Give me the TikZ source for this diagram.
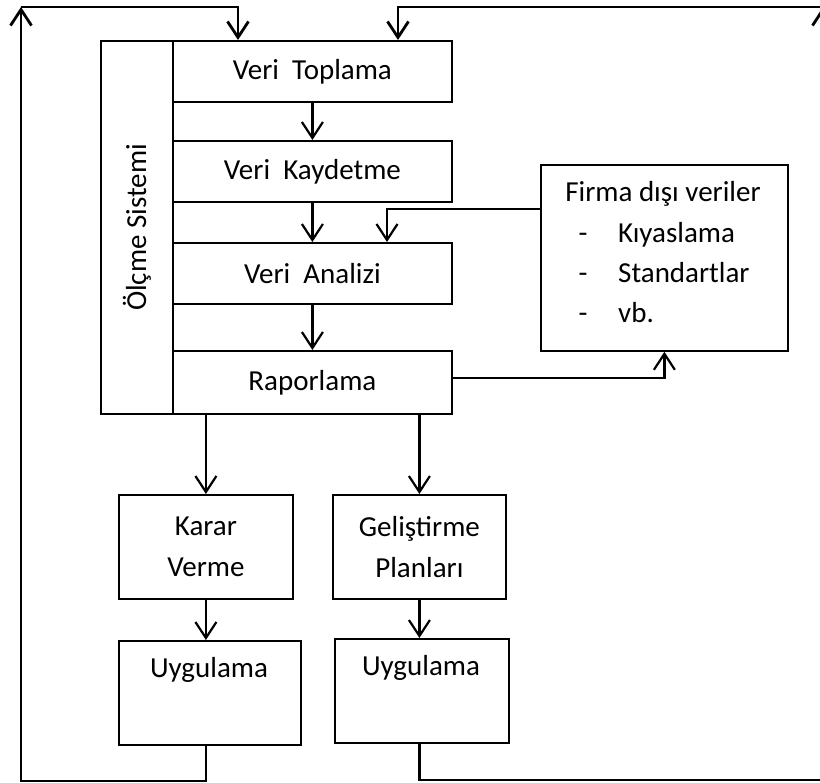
\documentclass[tikz,border=0pt]{standalone}
\usepackage{fontspec}
\setmainfont{Carlito}
\usetikzlibrary{arrows.meta}
\begin{document}
\begin{tikzpicture}[x=1pt,y=-1pt,
  box/.style={draw, line width=1.8pt, inner sep=0pt, anchor=north west,
    font=\fontsize{29}{41}\selectfont, align=center},
  lbl/.style={inner sep=0pt, font=\fontsize{29}{41}\selectfont},
  tip/.style={-{Straight Barb[length=16pt,width=21pt]}},
  flow/.style={line width=2.2pt, tip},
  loopline/.style={line width=2.8pt}]
\useasboundingbox (0,0) rectangle (820,783);

% measuring system column and its stages
\node[box, minimum width=72, minimum height=373] (olcme) at (100,40) {};
\node[lbl, rotate=90] (olcmet) at (olcme.center) {Ölçme Sistemi};
\node[box, minimum width=279, minimum height=61] (topl) at (172,40) {Veri~~Toplama};
\node[box, minimum width=279, minimum height=61] (kayd) at (172,140) {Veri~~Kaydetme};
\node[box, minimum width=279, minimum height=61] (anal) at (172,242) {Veri~~Analizi};
\node[box, minimum width=279, minimum height=63] (rapor) at (172,350) {Raporlama};

% external data box
\node[box, minimum width=247, minimum height=186] (firma) at (540,164) {};
\node[lbl, anchor=base] (firmat) at (663,202) {Firma dışı veriler};
\node[lbl, anchor=base] (d1) at (583,243) {-};
\node[lbl, anchor=base west] (i1) at (618,243) {Kıyaslama};
\node[lbl, anchor=base] (d2) at (583,283) {-};
\node[lbl, anchor=base west] (i2) at (618,283) {Standartlar};
\node[lbl, anchor=base] (d3) at (583,323) {-};
\node[lbl, anchor=base west] (i3) at (618,323) {vb.};

% decisions and plans
\node[box, minimum width=174, minimum height=104] (karar) at (118,494) {Karar\\Verme};
\node[box, minimum width=173, minimum height=104] (gelis) at (332,494) {Geliştirme\\Planları};
\node[box, minimum width=182, minimum height=104] (uyg1) at (118,640) {};
\node[lbl, anchor=base] (uyg1t) at (209,677) {Uygulama};
\node[box, minimum width=174, minimum height=104] (uyg2) at (334,638) {};
\node[lbl, anchor=base] (uyg2t) at (421,675) {Uygulama};

% flow through the stages
\draw[flow] (topl.south) -- (kayd.north);
\draw[flow] (kayd.south) -- (anal.north);
\draw[flow] (anal.south) -- (rapor.north);
\draw[flow] (firma.west |- 0,209) -| (anal.north -| 387,0);
\draw[flow] (rapor.east |- 0,378) -| (firma.south);
\draw[flow] (karar.north |- rapor.south) -- (karar.north);
\draw[flow] (gelis.north |- rapor.south) -- (gelis.north);
\draw[flow] (karar.south) -- (karar.south |- uyg1.north);
\draw[flow] (gelis.south) -- (gelis.south |- uyg2.north);

% feedback loops
\coordinate (tl) at (21,7);
\coordinate (tr) at (823,7);
\draw[loopline, tip] (uyg1.south -| karar.south) -- (karar.south |- 0,781) -| (tl);
\draw[loopline, tip] (tl) -| (topl.north -| 238,0);
\draw[loopline, tip] (uyg2.south -| gelis.south) -- (gelis.south |- 0,780) -| (tr);
\draw[loopline, tip] (tr) -| (topl.north -| 398,0);
\end{tikzpicture}
\end{document}
